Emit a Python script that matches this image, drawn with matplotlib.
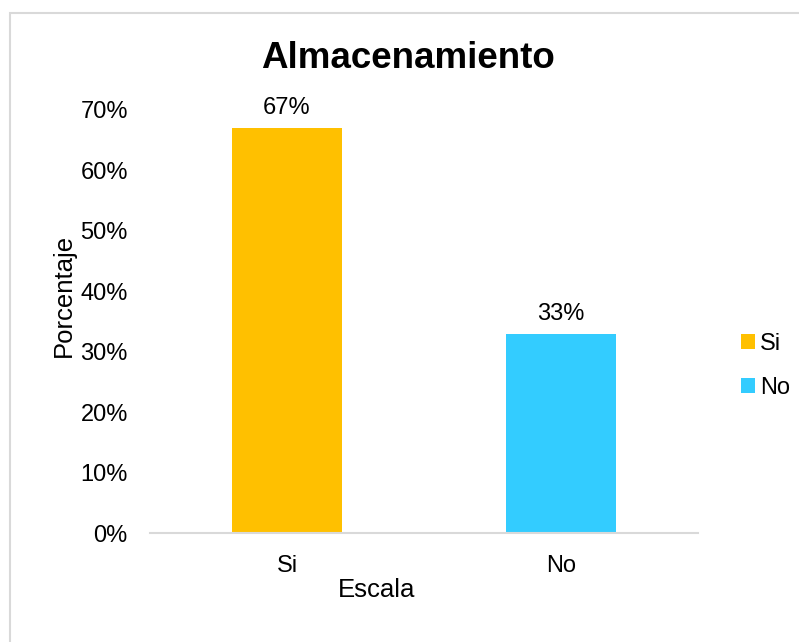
import matplotlib.pyplot as plt
from matplotlib.patches import Rectangle

# datos del gráfico
categorias = ["Si", "No"]
porcentajes = [0.67, 0.33]
colores = ["#FFC000", "#33CCFF"]
ticks_y = [0, 0.1, 0.2, 0.3, 0.4, 0.5, 0.6, 0.7]

plt.rcParams["font.family"] = ["Liberation Sans", "DejaVu Sans"]

fig = plt.figure(figsize=(7.99, 6.42), dpi=100)
ax = fig.add_axes([150 / 799, 109 / 642, 548 / 799, 423 / 642])

x = range(len(categorias))
barras = ax.bar(x, porcentajes, width=0.4, color=colores, label=categorias)

for b, v in zip(barras, porcentajes):
    ax.annotate(f"{v:.0%}", (b.get_x() + b.get_width() / 2, v),
                xytext=(0, 10), textcoords="offset points",
                ha="center", va="baseline", fontsize=17)

ax.set_xlim(-0.5, 1.5)
ax.set_ylim(0, 0.7)
ax.set_xticks(list(x))
ax.set_xticklabels(categorias, fontsize=17)
ax.set_yticks(ticks_y)
ax.set_yticklabels([f"{t:.0%}" for t in ticks_y], fontsize=17)
ax.tick_params(axis="x", length=0, pad=16)
ax.tick_params(axis="y", length=0, pad=16)

for lado in ["top", "right", "left"]:
    ax.spines[lado].set_visible(False)
ax.spines["bottom"].set_color("#d9d9d9")
ax.spines["bottom"].set_linewidth(1.5)

ax.set_title("Almacenamiento", fontsize=26.5, fontweight="bold", pad=30, x=0.47)
fig.text(377 / 799, 1 - 590 / 642, "Escala", ha="center", va="center", fontsize=18.5)
fig.text(64 / 799, 1 - 295 / 642, "Porcentaje", ha="center", va="center",
         rotation=90, fontsize=18.5)

ax.legend(handles=list(barras), labels=categorias, loc="center left",
          bbox_to_anchor=(1.04, 0.395), frameon=False, fontsize=17,
          handlelength=0.6, handleheight=0.6, handletextpad=0.2,
          labelspacing=0.9)

# marco exterior del gráfico
fig.add_artist(Rectangle((9.5 / 799, -0.1), 1.2, 1.1 - 13.5 / 642,
                         transform=fig.transFigure, fill=False,
                         edgecolor="#d9d9d9", linewidth=1.5))

fig.savefig("out.png", dpi=100)
